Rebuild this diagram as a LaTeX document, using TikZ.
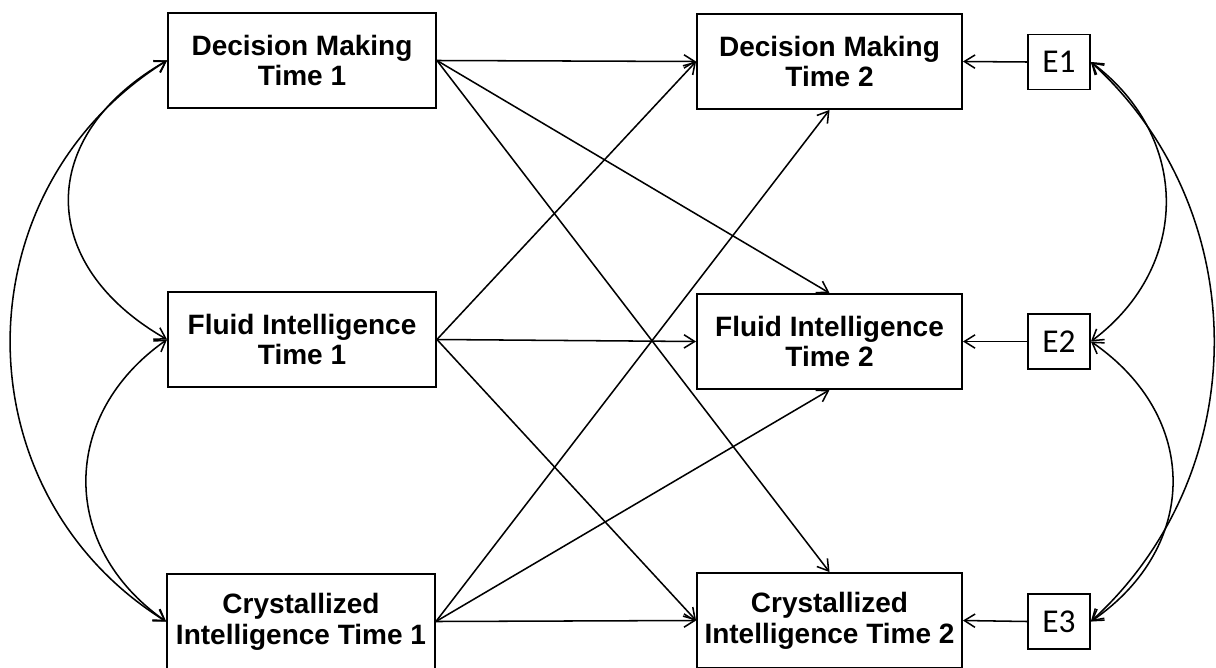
\documentclass[tikz,border=0pt]{standalone}
\usepackage{fontspec}
\setmainfont{Liberation Sans}
\newfontfamily\efont{Carlito}
\usetikzlibrary{arrows.meta}
\begin{document}
\begin{tikzpicture}[x=0.75pt,y=-0.75pt,
  varleft/.style={draw, line width=1.4pt, minimum width=201pt, minimum height=71.25pt, inner sep=0pt, align=center, font=\bfseries\fontsize{21}{23}\selectfont},
  varright/.style={varleft, minimum width=198.75pt},
  errbox/.style={draw, line width=1.3pt, minimum width=46.5pt, minimum height=41.25pt, inner sep=0pt, font=\efont\fontsize{25}{26}\selectfont},
  arr/.style={line width=1.15pt, -{Straight Barb[length=8pt,width=10pt]}},
  cov/.style={line width=1.15pt, {Straight Barb[length=8pt,width=10pt]}-{Straight Barb[length=8pt,width=10pt]}}]
\clip (0,0) rectangle (1216,667);
\fill[white] (0,0) rectangle (1216,667);
% Time 1
\node[varleft] (DM1) at (302,60.5) {Decision Making\\Time 1};
\node[varleft] (FI1) at (302,339.5) {Fluid Intelligence\\Time 1};
\node[varleft] (CI1) at (301,621.5) {Crystallized\\Intelligence Time 1};
% Time 2
\node[varright] (DM2) at (829.5,61.5) {Decision Making\\Time 2};
\node[varright] (FI2) at (829.5,341.5) {Fluid Intelligence\\Time 2};
\node[varright] (CI2) at (829.5,620.5) {Crystallized\\Intelligence Time 2};
% errors
\node[errbox] (E1) at (1059,62) {E1};
\node[errbox] (E2) at (1059,341.5) {E2};
\node[errbox] (E3) at (1059,621.5) {E3};
% paths
\draw[arr] (DM1.east) -- (DM2.west);
\draw[arr] (DM1.east) -- (FI2.north);
\draw[arr] (DM1.east) -- (CI2.north);
\draw[arr] (FI1.east) -- (DM2.west);
\draw[arr] (FI1.east) -- (FI2.west);
\draw[arr] (FI1.east) -- (CI2.west);
\draw[arr] (CI1.east) -- (DM2.south);
\draw[arr] (CI1.east) -- (FI2.south);
\draw[arr] (CI1.east) -- (CI2.west);
% error paths
\draw[arr] (E1.west) -- (DM2.east);
\draw[arr] (E2.west) -- (FI2.east);
\draw[arr] (E3.west) -- (CI2.east);
% covariances left
\draw[cov] (DM1.west) .. controls +(-131,75) and +(-131,-75) .. (FI1.west);
\draw[cov] (FI1.west) .. controls +(-107,75) and +(-107,-75) .. (CI1.west);
\draw[cov] (DM1.west) .. controls +(-208,130) and +(-208,-130) .. (CI1.west);
% covariances right
\draw[cov] (E1.east) .. controls +(100,75) and +(100,-75) .. (E2.east);
\draw[cov] (E2.east) .. controls +(109,75) and +(109,-75) .. (E3.east);
\draw[cov] (E1.east) .. controls +(164,150) and +(164,-150) .. (E3.east);
\end{tikzpicture}
\end{document}
